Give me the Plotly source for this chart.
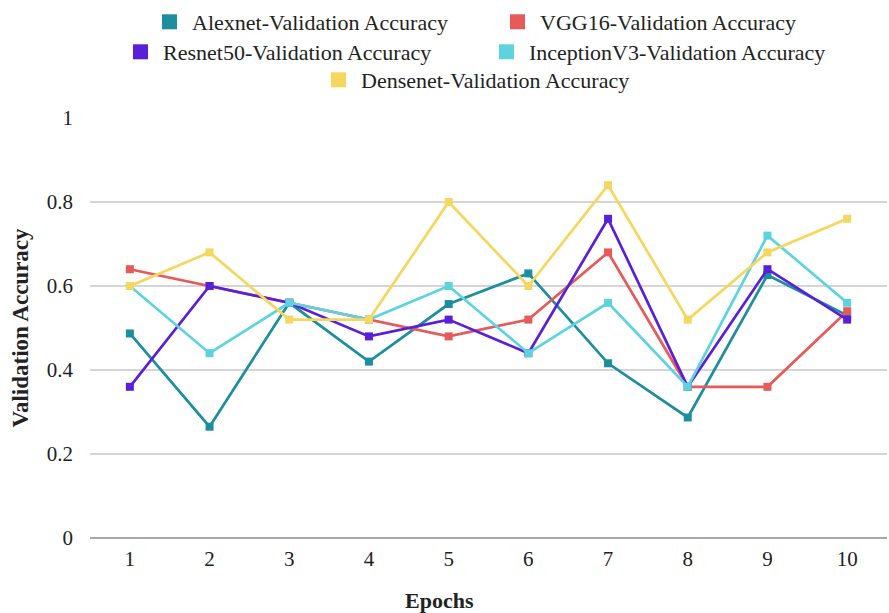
import plotly.graph_objects as go

# Validation accuracy per epoch for each CNN backbone
epochs = [1, 2, 3, 4, 5, 6, 7, 8, 9, 10]
alexnet = [0.487, 0.265, 0.56, 0.42, 0.557, 0.63, 0.416, 0.287, 0.626, 0.53]
vgg16 = [0.64, 0.60, 0.56, 0.52, 0.48, 0.52, 0.68, 0.36, 0.36, 0.54]
resnet50 = [0.36, 0.60, 0.56, 0.48, 0.52, 0.44, 0.76, 0.36, 0.64, 0.52]
inception_v3 = [0.60, 0.44, 0.56, 0.52, 0.60, 0.44, 0.56, 0.36, 0.72, 0.56]
densenet = [0.60, 0.68, 0.52, 0.52, 0.80, 0.60, 0.84, 0.52, 0.68, 0.76]

y_ticks = [0, 0.2, 0.4, 0.6, 0.8, 1]
y_tick_text = ["0", "0.2", "0.4", "0.6", "0.8", "1"]

series = [
    ("Alexnet-Validation Accuracy", alexnet, "#1C8E9E", "legend"),
    ("VGG16-Validation Accuracy", vgg16, "#E65A5A", "legend"),
    ("Resnet50-Validation Accuracy", resnet50, "#5A1FD8", "legend2"),
    ("InceptionV3-Validation Accuracy", inception_v3, "#5DD3E0", "legend2"),
    ("Densenet-Validation Accuracy", densenet, "#F5D65E", "legend3"),
]

FONT = "Liberation Serif"
TEXT = "#222222"
W, H = 889, 613

fig = go.Figure()

for name, values, color, _ in series:
    fig.add_trace(go.Scatter(
        x=epochs, y=values, mode="lines+markers", name=name,
        line=dict(color=color, width=2.7),
        marker=dict(symbol="square", size=8, color=color),
        showlegend=False, hoverinfo="x+y+name",
    ))

# Square swatches for the three centred legend rows
for name, values, color, leg in series:
    fig.add_trace(go.Scatter(
        x=[None], y=[None], mode="markers", name=name,
        marker=dict(symbol="square", size=15, color=color),
        legend=leg, showlegend=True,
    ))


def legend_row(left_px, mid_y_px, entry_px):
    return dict(
        orientation="h", xref="container", yref="container",
        x=left_px / W, xanchor="left",
        y=1 - mid_y_px / H, yanchor="middle",
        font=dict(family=FONT, size=22, color=TEXT),
        bgcolor="rgba(0,0,0,0)", itemwidth=35,
        entrywidth=entry_px, entrywidthmode="pixels",
        itemclick=False, itemdoubleclick=False,
    )


fig.update_layout(
    width=W, height=H,
    margin=dict(l=90, r=2, t=118, b=75),
    paper_bgcolor="white", plot_bgcolor="white",
    font=dict(family=FONT, size=21, color=TEXT),
    legend=legend_row(147, 22, 298),
    legend2=legend_row(118, 52, 316),
    legend3=legend_row(316, 80, 300),
    xaxis=dict(
        range=[0.5, 10.5], tickvals=epochs, showgrid=False, zeroline=False,
        showline=False, ticks="", ticklabelstandoff=6,
        tickfont=dict(family=FONT, size=21, color=TEXT),
    ),
    yaxis=dict(
        range=[0, 1], tickvals=y_ticks, ticktext=y_tick_text,
        showgrid=True, gridcolor="#d6d6d6", gridwidth=2,
        zeroline=True, zerolinecolor="#a8a8a8", zerolinewidth=2,
        showline=False, ticks="", ticklabelstandoff=16,
        tickfont=dict(family=FONT, size=21, color=TEXT),
        title=dict(text="<b>Validation Accuracy</b>", standoff=11,
                   font=dict(family=FONT, size=23, color=TEXT)),
    ),
    # x-axis title sits at the centre of the whole chart
    annotations=[dict(
        text="<b>Epochs</b>", xref="paper", yref="paper",
        x=(W / 2 - 95) / (W - 90 - 2), y=-62 / 420,
        xanchor="center", yanchor="middle", showarrow=False,
        font=dict(family=FONT, size=22, color=TEXT),
    )],
)

fig.write_html("out.html")
